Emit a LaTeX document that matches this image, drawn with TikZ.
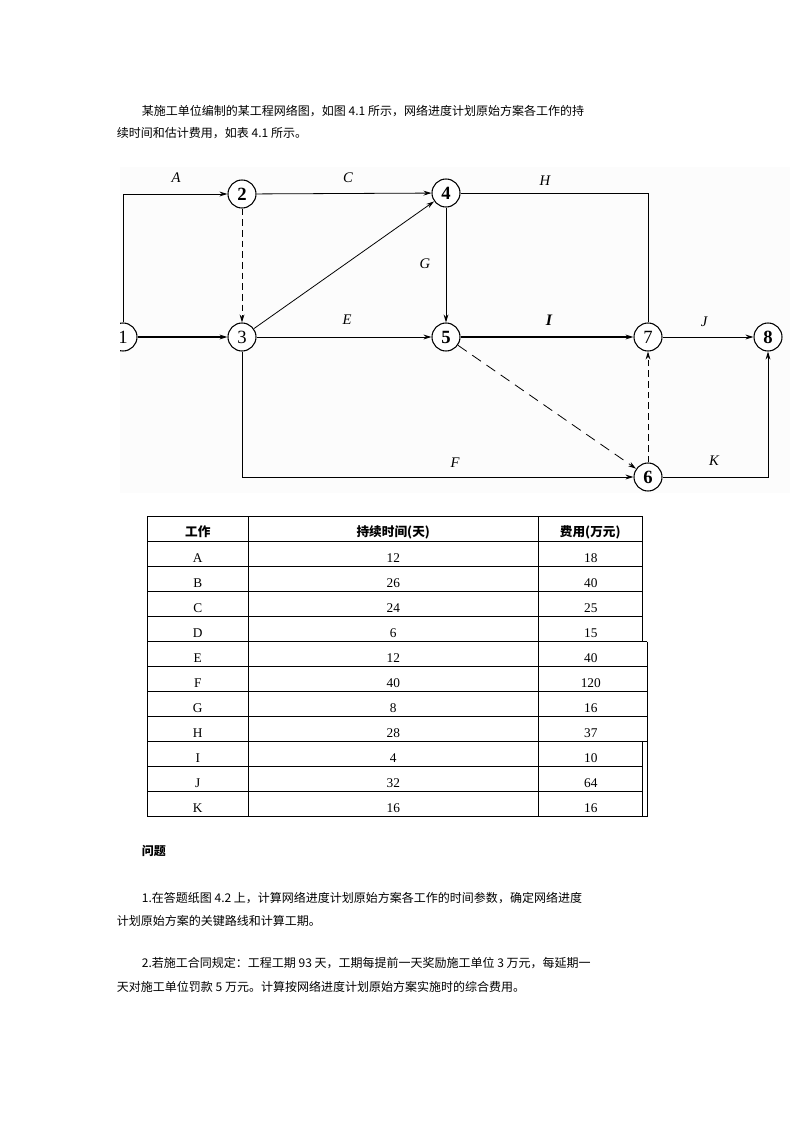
\documentclass[tikz,border=0pt]{standalone}
\usepackage{fontspec}
\setmainfont{Liberation Serif}
\newfontfamily\cjk{Noto Sans CJK SC}
\usetikzlibrary{arrows.meta}
\tikzset{
  ev/.style={circle, draw, line width=0.8pt, minimum size=21pt, inner sep=0pt,
             font=\fontsize{14}{14}\selectfont, fill=white},
  act/.style={line width=0.6pt, -{Stealth[length=6pt,width=3.6pt]}},
  plain/.style={line width=0.6pt},
  dum/.style={act, dash pattern=on 5pt off 3pt},
  lbl/.style={font=\fontsize{11}{11}\selectfont\itshape, inner sep=0pt},
  para/.style={anchor=base west, inner sep=0pt, font=\fontsize{9}{9}\selectfont\cjk},
  tl/.style={line width=0.6pt},
  hd/.style={anchor=base, inner sep=0pt, font=\fontsize{9.5}{9.5}\selectfont\cjk\bfseries},
  cell/.style={anchor=base, inner sep=0pt, font=\fontsize{10}{10}\selectfont}
}
\begin{document}
\begin{tikzpicture}[x=0.75pt,y=-0.75pt]
\useasboundingbox (0,0) rectangle (794,1123);
\fill[white] (0,0) rectangle (794,1123);

% intro paragraph
\node[para] (p1) at (141.7,116) {某施工单位编制的某工程网络图，如图 4.1 所示，网络进度计划原始方案各工作的持};
\node[para] (p2) at (116.7,137.5) {续时间和估计费用，如表 4.1 所示。};

% network diagram
\fill[gray!2.5] (120,167) rectangle (790,493);
\begin{scope}
\clip (120,167) rectangle (790,493);
\node[ev] (n1) at (123,337) {1};
\node[ev] (n2) at (242,194) {\textbf{2}};
\node[ev] (n3) at (242,337) {3};
\node[ev] (n4) at (446,193) {\textbf{4}};
\node[ev] (n5) at (446,337) {\textbf{5}};
\node[ev] (n6) at (648,477) {\textbf{6}};
\node[ev] (n7) at (648,337) {7};
\node[ev] (n8) at (768,337) {\textbf{8}};

\draw[act] (n1.north) |- (n2.west);
\draw[act, line width=0.9pt] (n1) -- (n3);
\draw[dum] (n2) -- (n3);
\draw[act] (n2) -- (n4);
\draw[act] (n3) -- (n4);
\draw[act] (n3) -- (n5);
\draw[act, line width=0.7pt] (n4) -- (n5);
\draw[plain, line width=0.7pt] (n4.east) -| (n7.north);
\draw[act, line width=0.9pt] (n5) -- (n7);
\draw[act] (n7) -- (n8);
\draw[act, dash pattern=on 8pt off 5pt] (n5) -- (n6);
\draw[dum] (n6) -- (n7);
\draw[act] (n3.south) |- (n6.west);
\draw[act] (n6.east) -| (n8.south);

\node[lbl] (lA) at (176,178) {A};
\node[lbl] (lC) at (348,178) {C};
\node[lbl] (lH) at (545,181) {H};
\node[lbl] (lG) at (425,264) {G};
\node[lbl] (lE) at (347,320) {E};
\node[lbl, font=\fontsize{12}{12}\selectfont\bfseries\itshape] (lI) at (549,320) {I};
\node[lbl] (lJ) at (704,322) {J};
\node[lbl] (lF) at (455,463) {F};
\node[lbl] (lK) at (714,461) {K};
\end{scope}

% table
\draw[tl] (147.3,516) -- (642.3,516);
\foreach \yy in {541.7,566.7,591.7,616.7,766.7,791.7} \draw[tl] (147.3,\yy) -- (642.3,\yy);
\foreach \yy in {641.7,666.7,691.7,716.7,741.7,816.7} \draw[tl] (147.3,\yy) -- (647.3,\yy);
\foreach \xx in {147.3,248.3,538.3} \draw[tl] (\xx,516) -- (\xx,816.7);
\draw[tl] (642.3,516) -- (642.3,641.7);
\draw[tl] (642.3,741.7) -- (642.3,816.7);
\draw[tl] (647.3,641.7) -- (647.3,816.7);

\node[hd] (h1) at (197.8,536.2) {工作};
\node[hd] (h2) at (393.3,536.2) {持续时间(天)};
\node[hd] (h3) at (590.3,536.2) {费用(万元)};

\foreach \w/\d/\c [count=\i] in {A/12/18,B/26/40,C/24/25,D/6/15,E/12/40,F/40/120,G/8/16,H/28/37,I/4/10,J/32/64,K/16/16}{
  \node[cell] (w\i) at (197.8,{537.7+25*\i}) {\w};
  \node[cell] (d\i) at (393.3,{537.7+25*\i}) {\d};
  \node[cell] (c\i) at (590.8,{537.7+25*\i}) {\c};
}

% questions
\node[para, font=\fontsize{9}{9}\selectfont\cjk\bfseries] (q0) at (141.7,855.5) {问题};
\node[para] (q1a) at (141.7,902.5) {1.在答题纸图 4.2 上，计算网络进度计划原始方案各工作的时间参数，确定网络进度};
\node[para] (q1b) at (116.7,925.5) {计划原始方案的关键路线和计算工期。};
\node[para] (q2a) at (141.7,967.5) {2.若施工合同规定：工程工期 93 天，工期每提前一天奖励施工单位 3 万元，每延期一};
\node[para] (q2b) at (116.7,991) {天对施工单位罚款 5 万元。计算按网络进度计划原始方案实施时的综合费用。};
\end{tikzpicture}
\end{document}
